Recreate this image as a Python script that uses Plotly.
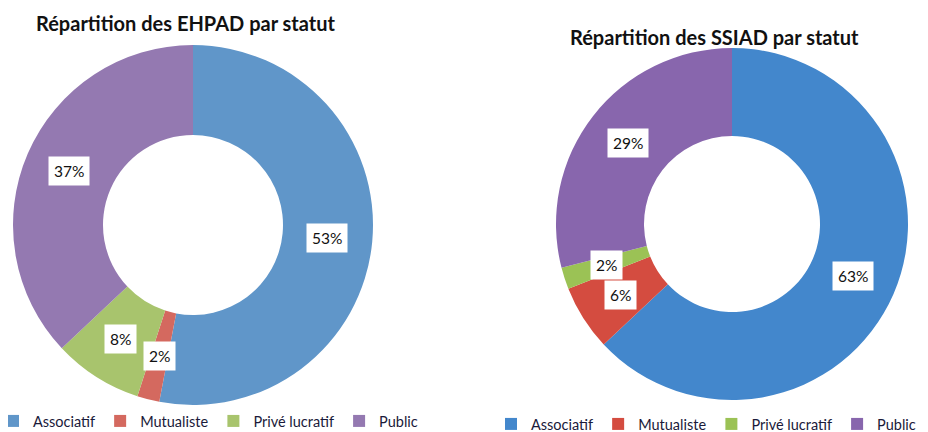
import math
import plotly.graph_objects as go

categories = ["Associatif", "Mutualiste", "Privé lucratif", "Public"]
ehpad_values = [53, 2, 8, 37]
ssiad_values = [63, 6, 2, 29]
ehpad_title = "Répartition des EHPAD par statut"
ssiad_title = "Répartition des SSIAD par statut"

# The page body has an 8px default margin, so the figure is drawn
# inside a 920x424 box offset by 8px from the window's corner.
OFF = 8
W, H = 928 - OFF, 432 - OFF
FONT = "Lato, 'Open Sans', sans-serif"


def px(sx):
    return (sx - OFF) / W


def py(sy):
    return 1 - (sy - OFF) / H


ehpad_colors = ["#6096c9", "#d4695f", "#a8c46d", "#9479b1"]
ssiad_colors = ["#4387cc", "#d44c40", "#9bc255", "#8866ad"]

HOLE = 0.5
ehpad_dom = dict(x=[px(13), px(373)], y=[py(405), py(45)])
ssiad_dom = dict(x=[px(556), px(908)], y=[py(400), py(48)])

fig = go.Figure()
fig.add_trace(go.Pie(
    labels=categories, values=ehpad_values, hole=HOLE, sort=False,
    direction="clockwise", rotation=0, domain=ehpad_dom,
    marker=dict(colors=ehpad_colors, line=dict(width=0)),
    textinfo="none", hoverinfo="label+percent", legend="legend",
    legendgroup="ehpad", name="EHPAD",
))
fig.add_trace(go.Pie(
    labels=categories, values=ssiad_values, hole=HOLE, sort=False,
    direction="clockwise", rotation=0, domain=ssiad_dom,
    marker=dict(colors=ssiad_colors, line=dict(width=0)),
    textinfo="none", hoverinfo="label+percent", legend="legend2",
    legendgroup="ssiad", name="SSIAD",
))


def label_annotations(values, dom, hole):
    x0, x1 = dom["x"][0] * W, dom["x"][1] * W
    y0, y1 = (1 - dom["y"][1]) * H, (1 - dom["y"][0]) * H
    cx, cy = (x0 + x1) / 2, (y0 + y1) / 2
    r = min(x1 - x0, y1 - y0) / 2
    rl = r * (1 + hole) / 2
    total = sum(values)
    cum = 0
    anns = []
    for v in values:
        mid = (cum + v / 2) / total * 2 * math.pi
        cum += v
        lx = cx + rl * math.sin(mid)
        ly = cy - rl * math.cos(mid)
        anns.append(dict(
            x=lx / W, y=1 - ly / H, xref="paper", yref="paper",
            text=f"{round(v / total * 100)}%", showarrow=False,
            bgcolor="white", borderpad=5,
            font=dict(family=FONT, size=15.5, color="#111111"),
            xanchor="center", yanchor="middle",
        ))
    return anns


annotations = []
annotations += label_annotations(ehpad_values, ehpad_dom, HOLE)
annotations += label_annotations(ssiad_values, ssiad_dom, HOLE)
annotations.append(dict(
    x=px(186), y=py(23), xref="paper", yref="paper", text=f"<b>{ehpad_title}</b>",
    showarrow=False, xanchor="center", yanchor="middle",
    font=dict(family=FONT, size=20, color="#111111"),
))
annotations.append(dict(
    x=px(714), y=py(37), xref="paper", yref="paper", text=f"<b>{ssiad_title}</b>",
    showarrow=False, xanchor="center", yanchor="middle",
    font=dict(family=FONT, size=20, color="#111111"),
))

legend_common = dict(
    orientation="h", xanchor="left", yanchor="middle",
    font=dict(family=FONT, size=14.5, color="#1a1a3a"),
    bgcolor="rgba(0,0,0,0)", itemwidth=30, traceorder="normal",
)

fig.update_layout(
    width=W, height=H,
    margin=dict(l=0, r=0, t=0, b=0, autoexpand=False),
    paper_bgcolor="white", plot_bgcolor="white",
    showlegend=True,
    legend=dict(x=px(-7), y=py(421), **legend_common),
    legend2=dict(x=px(491), y=py(424), **legend_common),
    annotations=annotations,
)

fig.write_html("out.html")
